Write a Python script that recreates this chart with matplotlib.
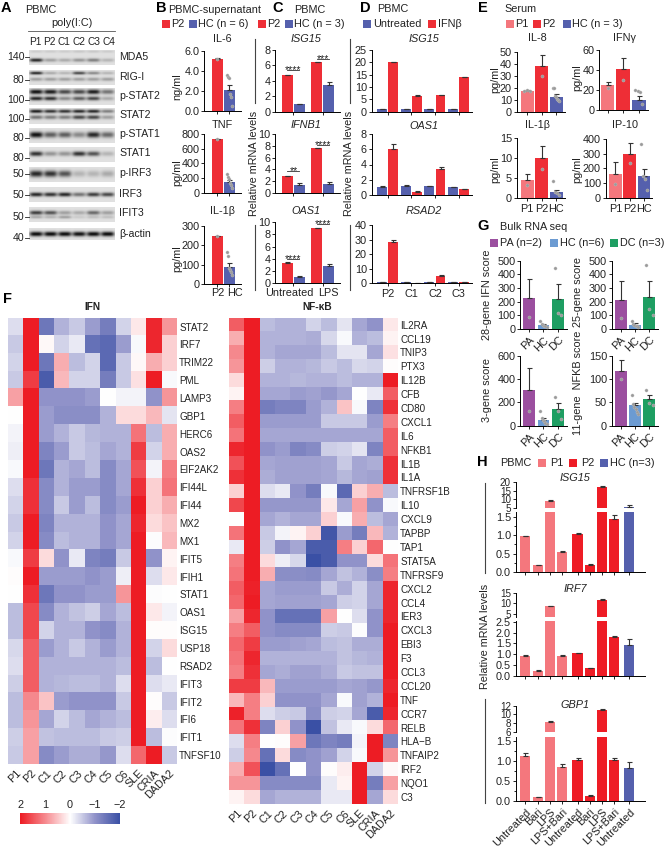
"""Multi-panel figure: western blot, cytokine and mRNA bars, IFN / NF-kB heatmaps."""
import matplotlib

matplotlib.use("Agg")
import matplotlib.pyplot as plt
import numpy as np
from matplotlib.colors import LinearSegmentedColormap

plt.rcParams["font.family"] = ["Liberation Sans", "DejaVu Sans"]
plt.rcParams["axes.linewidth"] = 0.7
plt.rcParams["xtick.major.width"] = 0.7
plt.rcParams["ytick.major.width"] = 0.7

W, H = 665, 848
FS = 7.8
DARK = "#222222"
RED = "#EE2E36"
BLUE = "#5560AD"
PINK = "#F4777D"
PURE_RED = "#EE1C25"
G_PA, G_HC, G_DC = "#9B4F9F", "#6C9BD2", "#1E9E62"

# ---- A: blot
LANES = ["P1", "P2", "C1", "C2", "C3", "C4"]
BLOT_NAMES = ["MDA5", "RIG-I", "p-STAT2", "STAT2", "p-STAT1", "STAT1", "p-IRF3", "IRF3", "IFIT3", "β-actin"]
BLOT_MW = ["140", "80", "100", "100", "80", "80", "50", "50", "50", "40"]
BLOT_BANDS = [
    [[0.85, 0.30, 0.25, 0.35, 0.45, 0.20], [0.10, 0.10, 0.10, 0.12, 0.12, 0.10]],
    [[0.85, 0.25, 0.20, 0.70, 0.40, 0.20], [0.30, 0.30, 0.30, 0.30, 0.30, 0.30]],
    [[0.95, 0.90, 0.70, 0.70, 0.90, 0.50], [0.85, 0.80, 0.40, 0.60, 0.70, 0.25]],
    [[0.90, 0.80, 0.80, 0.85, 0.85, 0.45], [0.50, 0.45, 0.45, 0.70, 0.70, 0.30]],
    [[0.95, 0.60, 0.60, 0.40, 0.85, 0.55]],
    [[0.80, 0.35, 0.35, 0.80, 0.65, 0.20]],
    [[0.85, 0.80, 0.65, 0.20, 0.20, 0.25]],
    [[0.85, 0.80, 0.85, 0.50, 0.75, 0.70]],
    [[0.75, 0.65, 0.30, 0.25, 0.55, 0.30], [0.25, 0.20, 0.30, 0.10, 0.15, 0.15]],
    [[0.98, 0.98, 0.98, 0.95, 0.98, 0.98]],
]

# ---- B
B_IL6 = [5.2, 2.05]
B_IL6_ERR = [0.03, 0.5]
B_IL6_DOTS = [[5.2], [3.6, 3.4, 3.3, 1.7, 1.4, 0.5]]
B_TNF = [730, 140]
B_TNF_ERR = [4, 35]
B_TNF_DOTS = [[730], [255, 220, 180, 135, 110, 60]]
B_IL1B = [245, 85]
B_IL1B_ERR = [2, 25]
B_IL1B_DOTS = [[248], [165, 145, 80, 70, 60, 45]]

# ---- C (Untreated P2, HC; LPS P2, HC)
C_ISG15 = [4.8, 0.95, 6.4, 3.5]
C_ISG15_ERR = [0.02, 0.08, 0.02, 0.35]
C_IFNB1 = [2.9, 1.4, 7.6, 1.5]
C_IFNB1_ERR = [0.02, 0.35, 0.02, 0.28]
C_OAS1 = [3.4, 1.1, 9.1, 2.9]
C_OAS1_ERR = [0.02, 0.12, 0.02, 0.3]

# ---- D
D_GROUPS = ["P2", "C1", "C2", "C3"]
D_ISG15_U = [0.9, 0.9, 0.9, 0.9]
D_ISG15_T = [20, 6.5, 6.7, 14]
D_ISG15_UE = [0.1, 0.1, 0.1, 0.1]
D_ISG15_TE = [0.2, 0.15, 0.15, 0.15]
D_OAS1_U = [1.1, 1.2, 1.15, 1.0]
D_OAS1_T = [6.0, 0.45, 3.4, 0.8]
D_OAS1_UE = [0.08, 0.08, 0.08, 0.05]
D_OAS1_TE = [0.7, 0.03, 0.3, 0.05]
D_RSAD2_U = [0.9, 0.7, 0.8, 0.9]
D_RSAD2_T = [28, 0.3, 5, 0.7]
D_RSAD2_UE = [0.1, 0.1, 0.1, 0.1]
D_RSAD2_TE = [1.8, 0.1, 0.4, 0.1]

# ---- E
E_LABELS = ["P1", "P2", "HC"]
E_IL8 = [17.5, 38, 12.5]
E_IL8_ERR = [0.6, 9, 2]
E_IL8_DOTS = [[17, 18, 17.5], [30], [20, 20, 13, 12, 11, 10, 9]]
E_IFNG = [25, 41, 10.5]
E_IFNG_ERR = [3.5, 11, 4]
E_IFNG_DOTS = [[22], [30], [20, 19, 18, 6]]
E_IL1B = [4.5, 10, 1.6]
E_IL1B_ERR = [1.5, 3, 0.5]
E_IL1B_DOTS = [[3.3], [7.2], [4.2, 1.6, 1.2, 0.8]]
E_IP10 = [160, 300, 150]
E_IP10_ERR = [80, 70, 45]
E_IP10_DOTS = [[90], [235], [365, 150, 130, 50]]

# ---- G
G_LABELS = ["PA", "HC", "DC"]
G_28 = [225, 30, 222]
G_28_ERR = [140, 10, 110]
G_28_DOTS = [[85], [55, 35, 30, 25, 20, 15], [445, 120, 100]]
G_25 = [215, 32, 235]
G_25_ERR = [135, 12, 120]
G_25_DOTS = [[80], [60, 35, 30, 25, 20, 15], [470, 145, 100]]
G_3 = [305, 50, 145]
G_3_ERR = [190, 15, 50]
G_3_DOTS = [[125], [125, 70, 50, 40, 25, 15], [250, 130, 60]]
G_11 = [117, 44, 57]
G_11_ERR = [25, 5, 8]
G_11_DOTS = [[100], [65, 47, 40, 35, 30, 25], [77, 48, 45]]

# ---- H
H_LABELS = ["Untreated", "Bari", "LPS", "LPS+Bari", "Untreated", "Bari", "LPS", "LPS+Bari", "Untreated"]
H_ISG15 = [0.97, 0.18, 9, 0.55, 1.03, 0.2, 17, 1.45, 6]
H_ISG15_ERR = [0.02, 0.02, 0.4, 0.02, 0.03, 0.02, 0.4, 0.09, 1.1]
H_IRF7 = [0.9, 0.22, 8.7, 0.93, 1.03, 0.35, 11.8, 1.78, 1.42]
H_IRF7_ERR = [0.04, 0.03, 0.3, 0.03, 0.02, 0.02, 0.2, 0.05, 0.28]
H_GBP1 = [1.12, 0.1, 8.3, 0.85, 1.03, 0.13, 11, 1.02, 0.83]
H_GBP1_ERR = [0.08, 0.01, 0.15, 0.07, 0.05, 0.01, 0.2, 0.04, 0.13]

# ---- F
HEAT_COLS = ["P1", "P2", "C1", "C2", "C3", "C4", "C5", "C6", "SLE", "CRIA", "DADA2"]
IFN_GENES = ["STAT2", "IRF7", "TRIM22", "PML", "LAMP3", "GBP1", "HERC6", "OAS2", "EIF2AK2", "IFI44L", "IFI44",
             "MX2", "MX1", "IFIT5", "IFIH1", "STAT1", "OAS1", "ISG15", "USP18", "RSAD2", "IFIT3", "IFIT2",
             "IFI6", "IFIT1", "TNFSF10"]
IFN_VALUES = [
    [-.3, 2, -1.4, -.7, -.5, -.9, -1.3, -.4, .2, 1.9, .9],
    [-.5, 2, .05, -.4, -.2, -1.5, -1.6, -.9, -.05, 1.9, .4],
    [-.4, 2, -1.4, .7, -.6, -.4, -1.6, -.5, .05, .7, .4],
    [-.5, 1.7, -1.8, .6, -.4, -.4, -1.3, -.5, .25, 2, -.05],
    [.8, 2, -1.0, -1.0, -1.0, -.9, 0, -.1, -.1, -1.0, .9],
    [0, 2, -.9, -1.05, -1.05, -1.05, -.7, .3, .3, .6, -.25],
    [-.1, 2, -.9, -.7, -.5, -.65, -.7, -.7, 1.2, -.6, .7],
    [-.15, 2, -1.2, -.9, -.5, -.6, -.8, -.7, 1.7, -.4, .7],
    [-.05, 2, -1.4, -.7, -.8, -.6, -1.1, -.8, 1.5, -.1, 1.1],
    [-.3, 1.8, -1.1, -.7, -.9, -.9, -1.1, -.8, 1.8, .4, 1.2],
    [-.4, 1.8, -1.1, -.5, -.9, -.6, -1.1, -.9, 2, .4, .7],
    [-.5, 2, -1.2, -.7, -.7, -.7, -1, -.8, 1.9, .3, .5],
    [-.4, 2, -1.1, -.6, -.7, -.7, -1, -.8, 2, -.03, .6],
    [-.05, 1.7, .3, -1, -.2, -1.2, -1.3, -.5, 2, -1, .1],
    [.03, 2, -.9, -.9, -.9, -1, -.9, -.15, 2, -.3, .2],
    [0, 1.8, -1.4, -1, -1, -.9, -.9, .9, 2, -.02, 0],
    [-.6, 1.6, -1.1, -.7, -.55, -.45, -.8, -.6, 2, .2, -.1],
    [-.6, 1.6, -.4, -.7, -.7, -1, -1.1, -.7, 2, .02, .03],
    [-.35, 1.4, -.9, -.7, -.5, -.7, -.9, -.7, 2, -.4, .3],
    [-.3, 1.4, -.7, -.7, -.7, -.7, -.7, -.6, 2, -.6, 0],
    [-.45, 1.4, -.7, -.65, -.6, -.6, -.7, -.3, 2, -.3, -.2],
    [-.6, 1, .5, -.9, -1, -1, -1, -.5, 2, .03, -.5],
    [-.6, .9, -.8, -.4, -.6, -.8, -.7, -.6, 2, .15, -.3],
    [-.45, .8, -.55, -.6, -.6, -.6, -.5, -.45, 2, -.6, -.02],
    [-.5, .8, -1.1, -.9, -.75, -.75, -.95, -.3, 1.3, 2, -.5],
]
NFKB_GENES = ["IL2RA", "CCL19", "TNIP3", "PTX3", "IL12B", "CFB", "CD80", "CXCL1", "IL6", "NFKB1", "IL1B", "IL1A",
              "TNFRSF1B", "IL10", "CXCL9", "TAPBP", "TAP1", "STAT5A", "TNFRSF9", "CXCL2", "CCL4", "IER3", "CXCL3",
              "EBI3", "F3", "CCL3", "CCL20", "TNF", "CCR7", "RELB", "HLA−B", "TNFAIP2", "IRF2", "NQO1", "C3"]
NFKB_VALUES = [
    [1.4, 2, -.6, -.7, -.7, -.4, -.6, -.25, -.8, -1, .2],
    [.7, 2, -.7, -.7, -.7, -.75, -.35, -.05, -.7, -.6, .1],
    [1, 2, -.7, -.8, -.8, -.8, -.6, -.25, -.25, -.8, .25],
    [.9, 2, -.45, -.7, -.7, -.65, -.5, -.6, -.35, -.4, .02],
    [.3, 2, -.7, -.7, -.65, -.7, -.7, -.6, -.7, -.7, 2],
    [.1, 2, -.8, -.8, -.9, -.85, -.95, -.8, 0, -.2, 1.4],
    [1.1, 2, -1.3, -1.2, -1.2, -.9, -.7, .5, -.05, -1.2, 1.8],
    [1.4, 2, -.9, -.9, -.9, -.9, -.5, -.5, -.5, -.9, 1.1],
    [1.2, 2, -.8, -.8, -.8, -.8, -.8, -.8, -.8, -.8, 1.4],
    [1.9, 2, -1, -.9, -1.2, -1.1, -.45, -.4, -.25, -1.2, 1.4],
    [1.5, 2, -.8, -.85, -.85, -.85, -.8, -.5, -.8, -.75, 1.8],
    [1.8, 2, -.75, -.85, -.85, -.85, -.8, -.65, -.8, -.85, 1.8],
    [.4, 2, -.3, -.2, -1, -1.3, -.05, -1.6, .4, .7, -.6],
    [1.6, 2, -.95, -.95, -.95, -.95, .2, -.8, .8, -1, -.05],
    [0, 2, -.8, -.7, -.8, -.8, .4, -.05, .7, -.6, -.8],
    [1.2, 2, -.5, -.1, .1, .4, -1.9, -.9, -1.3, .6, -.7],
    [-.2, 2, -.45, -1, -.8, -1.8, -1.8, 1.1, .4, 1.3, 0],
    [1.1, 2, .3, -.15, -.35, -2, -1.8, -1, -1, .3, 1.2],
    [1.2, 2, .7, -1.05, -1.05, -1.1, -.8, -.55, -.7, -1.05, 1.1],
    [1.4, 1.95, -.8, -.9, -.9, -.9, -.5, -.75, -.4, -.8, 1.9],
    [1.3, 2, -.8, -.85, -.85, -.85, -.8, -.45, -.4, -.8, 1.9],
    [.8, 1.9, -1, -1.5, -1.5, -1.5, .8, 0, -.3, -1, 1.9],
    [1.1, 1.4, -1, -1.1, -1.1, -1.1, -.45, -.5, -.02, -1, 2],
    [1.3, 1.7, -.9, -.9, -.85, -.8, -.6, -.55, -.75, -.75, 2],
    [1.2, 1.9, -.7, -.7, -.7, -.7, -.7, -.55, -.65, -.7, 2],
    [1.1, 1.8, -.8, -.75, -.85, -.85, -.75, -.5, -.55, -.55, 2],
    [1.7, 1.7, .6, -.9, -.9, -.9, -.9, -.8, -.85, -.95, 1.9],
    [.6, 1.1, .4, -1, -1, -1, -.8, -.05, -.85, -.7, 2],
    [1.95, 1.1, -.3, -.45, -.5, -1.05, -.45, -.4, -.8, -1.8, 1.9],
    [1.2, 1.8, -1.2, .4, -1, -2, -.55, -.2, -.05, .3, 1.3],
    [-.3, 1.1, 0, .02, .8, -1.4, -1.2, -1.3, -.1, 2, -1.2],
    [-.45, 1, -1.5, .3, -1.1, -1, -.85, -.4, -.05, 2, .9],
    [.7, 1.5, -2, -1.5, 0, -1, .02, .15, 2, -.4, .05],
    [.9, .9, -1.1, -1.1, -1.1, -1.1, -.2, .1, 2, -1.3, .8],
    [.1, .3, -.8, -.7, -.7, -.7, -.2, -.2, 2, -.8, .3],
]

fig = plt.figure(figsize=(W / 100, H / 100), dpi=100)
# pixel-space overlay for loose text, rules and legend squares
ov = fig.add_axes([0, 0, 1, 1], zorder=10)
ov.set_xlim(0, W)
ov.set_ylim(H, 0)
ov.axis("off")
ov.patch.set_alpha(0)


def px_axes(x0, y0, x1, y1):
    return fig.add_axes([x0 / W, 1 - y1 / H, (x1 - x0) / W, (y1 - y0) / H])


def label(x, y, s, size=FS, ha="left", va="center", **kw):
    ov.text(x, y, s, fontsize=size, ha=ha, va=va, color=kw.pop("color", DARK), **kw)


def letter(x, y, s):
    label(x, y, s, size=10.5, weight="bold", color="black")


def square(x, y, color, size=8):
    ov.add_patch(plt.Rectangle((x, y - size / 2), size, size, color=color, lw=0))


def style(ax, size=FS):
    for side in ("top", "right"):
        ax.spines[side].set_visible(False)
    ax.tick_params(length=2.2, pad=1.2, labelsize=size, colors=DARK)
    ax.tick_params(axis="x", pad=2.0)
    ax.patch.set_alpha(0)


def bars(rect, vals, errs, colors, ytop, yticks, xs, width, xlim, dots=None, yfmt="%g",
         xticks=None, xlabels=None, rot=0):
    ax = px_axes(*rect)
    style(ax)
    ax.bar(xs, vals, width=width, color=colors, lw=0)
    ax.errorbar(xs, vals, yerr=[np.zeros(len(errs)), errs], fmt="none", ecolor="#333333",
                elinewidth=0.8, capsize=1.8, capthick=0.8)
    if dots is not None:
        for x0, ds in zip(xs, dots):
            offs = np.linspace(-0.22, 0.22, len(ds)) if len(ds) > 1 else [0]
            ax.scatter(np.asarray(x0) + offs, ds, s=5, color="#9A9A9A", edgecolor="#BBBBBB",
                       linewidth=0.3, zorder=4, clip_on=False)
    ax.set_xlim(*xlim)
    ax.set_ylim(0, ytop)
    ax.set_yticks(yticks)
    ax.set_yticklabels([yfmt % t for t in yticks])
    ax.set_xticks(xticks if xticks is not None else xs)
    if xlabels is None:
        ax.set_xticklabels([])
    elif rot:
        ax.set_xticklabels(xlabels, rotation=rot, ha="right", rotation_mode="anchor")
    else:
        ax.set_xticklabels(xlabels)
    return ax


def sig(ax, x0, x1, y, s):
    ax.plot([x0, x1], [y, y], color="#333333", lw=0.6)
    ax.annotate(s, ((x0 + x1) / 2, y), xytext=(0, -2), textcoords="offset points",
                ha="center", va="baseline", fontsize=7.5, color=DARK)


# ---- A
blot_top = [50, 70, 88, 108, 128, 147, 167, 187, 207, 228]
blot_bot = [65, 85, 105, 124, 143, 162, 182, 202, 222, 240]
band_pos = [[.68, .1], [.2, .62], [.22, .62], [.2, .58], [.45], [.45], [.45], [.5], [.38, .68], [.5]]
band_sig = [[.12, .08], [.1, .12], [.14, .12], [.11, .13], [.2], [.16], [.22], [.14], [.14, .1], [.2]]
yy = np.linspace(0, 1, 48)
xx = np.linspace(0, 6, 258)
lane_shape = np.array([np.exp(-((xx - i - .5) / .46) ** 4) for i in range(6)])
for name, top, bot, bands, pos, sg in zip(BLOT_NAMES, blot_top, blot_bot, BLOT_BANDS, band_pos, band_sig):
    img = np.zeros((yy.size, xx.size))
    for inten, p, s in zip(bands, pos, sg):
        across = (np.array(inten)[:, None] * lane_shape).sum(axis=0)
        img += np.exp(-((yy - p) / s) ** 2)[:, None] * across[None, :]
    img = np.clip(0.88 - 0.86 * img, 0, 1)
    ov.imshow(img, extent=(29, 115, bot, top), cmap="gray", vmin=0, vmax=1, aspect="auto",
              interpolation="bilinear")
ov.set_xlim(0, W)
ov.set_ylim(H, 0)
mw_y = [57, 80, 100, 119, 138, 158, 174, 195, 217, 238]
name_y = [57, 77, 96, 115, 134, 153, 173, 194, 213, 234]
for name, mw, my, ny in zip(BLOT_NAMES, BLOT_MW, mw_y, name_y):
    label(119, ny, name, size=7.6)
    label(24.5, my, mw, size=7.6, ha="right")
    ov.plot([24.5, 29], [my, my], color=DARK, lw=0.6)
for i, lane in enumerate(LANES):
    label(35 + i * 14.7, 42, lane, size=7.3, ha="center")
letter(1, 8, "A")
label(25, 10, "PBMC")
label(72, 23, "poly(I:C)", ha="center")
ov.plot([28, 115], [31, 31], color="#555555", lw=0.6)

# ---- B
letter(156, 8, "B")
label(168, 10, "PBMC-supernatant")
square(162, 24, RED)
label(171, 24, "P2")
square(189, 24, BLUE)
label(198, 24, "HC (n = 6)")
bx = [0, 1]
bxl = (-1.125, 1.96)
bc = [RED, BLUE]
bars((204, 50.7, 241, 111), B_IL6, B_IL6_ERR, bc, 6, [0, 2, 4, 6], bx, .92, bxl, B_IL6_DOTS, yfmt="%.1f")
bars((204, 134, 241, 192.7), B_TNF, B_TNF_ERR, bc, 800, [0, 200, 400, 600, 800], bx, .92, bxl, B_TNF_DOTS)
bars((204, 225.7, 241, 284), B_IL1B, B_IL1B_ERR, bc, 300, [0, 100, 200, 300], bx, .92, bxl, B_IL1B_DOTS)
for y, s, un in [(39, "IL-6", "ng/ml"), (125, "TNF", "pg/ml"), (211, "IL-1β", "pg/ml")]:
    label(222, y, s, ha="center")
    label(177, y + 48, un, ha="center", rotation=90)
label(218, 293, "P2", ha="center")
label(235, 293, "HC", ha="center")

# ---- C
letter(272, 8, "C")
label(294, 10, "PBMC")
square(258, 24, RED)
label(267, 24, "P2")
square(285, 24, BLUE)
label(294, 24, "HC (n = 3)")
cx = [0, 1, 2.46, 3.46]
cxl = (-1.04, 4.38)
cc = [RED, BLUE, RED, BLUE]
ct = [.5, 2.96]
ax = bars((275, 50, 340, 111.7), C_ISG15, C_ISG15_ERR, cc, 8, [0, 2, 4, 6, 8], cx, .92, cxl, xticks=ct)
sig(ax, 0, 1, 5.4, "****")
sig(ax, 2.46, 3.46, 6.8, "***")
ax = bars((275, 134, 340, 193), C_IFNB1, C_IFNB1_ERR, cc, 10, [0, 2, 4, 6, 8, 10], cx, .92, cxl, xticks=ct)
sig(ax, 0, 1, 3.65, "**")
sig(ax, 2.46, 3.46, 8.15, "****")
ax = bars((275, 222.3, 340, 283.3), C_OAS1, C_OAS1_ERR, cc, 10, [0, 2, 4, 6, 8, 10], cx, .92, cxl, xticks=ct)
sig(ax, 0, 1, 4, "****")
sig(ax, 2.46, 3.46, 9.7, "****")
for y, s in [(39, "ISG15"), (125, "IFNB1"), (211, "OAS1")]:
    label(305.7, y, s, ha="center", style="italic")
label(289, 293.5, "Untreated", ha="center")
label(328, 293.5, "LPS", ha="center")
for x in (254.5, 350):
    ov.plot([x, x], [39, 103], color="#444444", lw=0.8)
    ov.plot([x, x], [225, 290], color="#444444", lw=0.8)
    label(x - .5, 163.5, "Relative mRNA levels", ha="center", rotation=90)

# ---- D
letter(360, 8, "D")
label(377, 9, "PBMC")
square(363, 24, BLUE)
label(373, 24, "Untreated")
square(428, 24, RED)
label(438, 24, "IFNβ")
dg = np.arange(4)
dx = np.ravel(np.column_stack([dg - .235, dg + .235]))
dxl = (-.667, 3.55)
dc = [BLUE, RED] * 4


def pairs(a, b):
    return list(np.ravel(np.column_stack([a, b])))


bars((371.7, 50, 471.7, 111.7), pairs(D_ISG15_U, D_ISG15_T), pairs(D_ISG15_UE, D_ISG15_TE), dc, 25,
     [0, 5, 10, 15, 20, 25], dx, .42, dxl, xticks=dg)
bars((371.7, 134, 471.7, 195), pairs(D_OAS1_U, D_OAS1_T), pairs(D_OAS1_UE, D_OAS1_TE), dc, 8,
     [0, 2, 4, 6, 8], dx, .42, dxl, xticks=dg)
bars((371.7, 225, 471.7, 283.3), pairs(D_RSAD2_U, D_RSAD2_T), pairs(D_RSAD2_UE, D_RSAD2_TE), dc, 40,
     [0, 10, 20, 30, 40], dx, .42, dxl, xticks=dg, xlabels=D_GROUPS)
for y, s in [(39, "ISG15"), (126, "OAS1"), (211, "RSAD2")]:
    label(424, y, s, ha="center", style="italic")

# ---- E
letter(478, 8, "E")
label(504, 9, "Serum")
square(506, 24, PINK)
label(515, 24, "P1")
square(533, 24, RED)
label(542, 24, "P2")
square(563, 24, BLUE)
label(572, 24, "HC (n = 3)")
ex = np.arange(3)
ec = [PINK, RED, BLUE]
exl1 = (-.72, 2.6)
exl2 = (-.55, 2.6)
exl3 = (-.69, 2.57)
bars((516.7, 51.7, 565, 111.7), E_IL8, E_IL8_ERR, ec, 50, [0, 10, 20, 30, 40, 50], ex, .88, exl1, E_IL8_DOTS)
bars((599, 50, 648, 110), E_IFNG, E_IFNG_ERR, ec, 60, [0, 20, 40, 60], ex, .88, exl2, E_IFNG_DOTS)
bars((516.7, 138.3, 565, 198.3), E_IL1B, E_IL1B_ERR, ec, 15, [0, 5, 10, 15], ex, .88, exl1, E_IL1B_DOTS,
     xlabels=E_LABELS)
bars((605.7, 139, 652, 197.7), E_IP10, E_IP10_ERR, ec, 400, [0, 100, 200, 300, 400], ex, .88, exl3, E_IP10_DOTS,
     xlabels=E_LABELS)
for x, y, s in [(537, 38, "IL-8"), (625, 38, "IFNγ"), (537, 125, "IL-1β"), (625, 125, "IP-10")]:
    label(x, y, s, ha="center")
for x, y in [(495, 80), (577, 78), (495, 170), (577, 170)]:
    label(x, y, "pg/ml", ha="center", rotation=90)

# ---- G
letter(477, 226, "G")
label(500, 227, "Bulk RNA seq")
for x, c, s in [(490, G_PA, "PA (n=2)"), (550, G_HC, "HC (n=6)"), (610, G_DC, "DC (n=3)")]:
    square(x, 243, c)
    label(x + 10, 243, s)
gc = [G_PA, G_HC, G_DC]
gxl = (-.62, 2.6)
bars((520, 260.7, 566.7, 329), G_28, G_28_ERR, gc, 500, [0, 100, 200, 300, 400, 500], ex, .82, gxl, G_28_DOTS,
     xlabels=G_LABELS, rot=45)
bars((611.7, 260.7, 658, 329), G_25, G_25_ERR, gc, 500, [0, 100, 200, 300, 400, 500], ex, .82, gxl, G_25_DOTS,
     xlabels=G_LABELS, rot=45)
bars((520, 356, 566.7, 425.7), G_3, G_3_ERR, gc, 600, [0, 200, 400, 600], ex, .82, gxl, G_3_DOTS,
     xlabels=G_LABELS, rot=45)
bars((611.7, 356, 658, 425.7), G_11, G_11_ERR, gc, 150, [0, 50, 100, 150], ex, .82, gxl, G_11_DOTS,
     xlabels=G_LABELS, rot=45)
for x, y, s in [(487, 295, "28-gene IFN score"), (578, 292, "25-gene score"),
                (487, 390.5, "3-gene score"), (578, 383, "11-gene  NFKB score")]:
    label(x, y, s, ha="center", rotation=90)

# ---- H
letter(477, 462, "H")
label(500, 463, "PBMC")
square(538, 463, PINK)
label(550, 463, "P1")
square(569, 463, PURE_RED)
label(581, 463, "P2")
square(600, 463, BLUE)
label(610, 463, "HC (n=3)")
hx = np.array([0, 1, 2, 3, 4.27, 5.27, 6.27, 7.27, 8.5])
hc = [PINK] * 4 + [PURE_RED] * 4 + [BLUE]
hxl = (-.785, 9.79)


def broken(top_rect, low_rect, vals, errs, upper_lim, upper_ticks, low_top, low_ticks, minor=None, xlabels=None):
    up = px_axes(*top_rect)
    style(up, size=7.1)
    up.spines["bottom"].set_visible(False)
    up.bar(hx, vals, width=.82, color=hc, lw=0)
    up.errorbar(hx, vals, yerr=[np.zeros(len(errs)), errs], fmt="none", ecolor="#333333",
                elinewidth=0.8, capsize=1.8, capthick=0.8)
    up.set_xlim(*hxl)
    up.set_ylim(*upper_lim)
    up.set_yticks(upper_ticks)
    up.set_xticks([])
    lo = px_axes(*low_rect)
    style(lo, size=FS)
    lo.bar(hx, vals, width=.82, color=hc, lw=0)
    lo.errorbar(hx, vals, yerr=[np.zeros(len(errs)), errs], fmt="none", ecolor="#333333",
                elinewidth=0.8, capsize=1.8, capthick=0.8)
    lo.set_xlim(*hxl)
    lo.set_ylim(0, low_top)
    lo.set_yticks(low_ticks)
    lo.set_yticklabels(["%.1f" % t for t in low_ticks])
    if minor is not None:
        lo.set_yticks(minor, minor=True)
        lo.tick_params(axis="y", which="minor", length=1.3, width=0.6)
    lo.set_xticks(hx)
    if xlabels is None:
        lo.set_xticklabels([])
    else:
        lo.set_xticklabels(xlabels, rotation=45, ha="right", rotation_mode="anchor")


broken((515.7, 481.7, 645, 508.3), (515.7, 512.3, 645, 572), H_ISG15, H_ISG15_ERR, (5, 20), [5, 10, 15, 20],
       1.62, [0, .5, 1, 1.5], minor=[.25, .75, 1.25])
broken((515.7, 592.7, 645, 617), (515.7, 620.7, 645, 675.7), H_IRF7, H_IRF7_ERR, (3.7, 15), [5, 10, 15],
       2.55, [0, .5, 1, 1.5, 2, 2.5])
broken((515.7, 705.7, 645, 731.7), (515.7, 736.7, 645, 801), H_GBP1, H_GBP1_ERR, (6, 12), [6, 8, 10, 12],
       1.6, [0, .5, 1, 1.5], minor=[.25, .75, 1.25], xlabels=H_LABELS)
for y, s in [(478, "ISG15"), (589, "IRF7"), (705, "GBP1")]:
    label(575, y, s, ha="center", style="italic")
ov.plot([485.3, 485.3], [483, 573], color="#444444", lw=0.8)
ov.plot([485.3, 485.3], [699, 803], color="#444444", lw=0.8)
label(484.5, 636, "Relative mRNA levels", ha="center", rotation=90)

# ---- F
letter(3, 299, "F")
heat_cmap = LinearSegmentedColormap.from_list(
    "heat", [(0, "#3A50A5"), (.25, "#9092C9"), (.5, "#FFFFFF"), (.75, "#F68A8F"), (1, "#ED1C24")])


def heatmap(rect, values, genes):
    ax = px_axes(*rect)
    ax.imshow(values, cmap=heat_cmap, vmin=-2, vmax=2, aspect="auto", interpolation="nearest")
    ax.yaxis.tick_right()
    ax.set_yticks(range(len(genes)))
    ax.set_yticklabels(genes, fontsize=7.1, color=DARK)
    ax.set_xticks(range(len(HEAT_COLS)))
    ax.set_xticklabels(HEAT_COLS, fontsize=FS, color=DARK, rotation=45, ha="right", rotation_mode="anchor")
    ax.tick_params(length=0, pad=1.5)
    ax.tick_params(axis="x", pad=3)
    for sp in ax.spines.values():
        sp.set_visible(False)


heatmap((8.3, 317.7, 177, 764), IFN_VALUES, IFN_GENES)
heatmap((229.3, 317.7, 398, 804), NFKB_VALUES, NFKB_GENES)
label(92, 307, "IFN", ha="center", weight="bold", size=7.3)
label(317, 307, "NF-κB", ha="center", weight="bold", size=7.3)

cax = px_axes(20, 812.7, 120, 824)
cax.pcolormesh(np.linspace(2, -2, 201), [0, 1], np.linspace(2, -2, 200)[None, :], cmap=heat_cmap, vmin=-2, vmax=2)
cax.set_xlim(2, -2)
cax.set_yticks([])
cax.xaxis.tick_top()
cax.set_xticks([2, 1, 0, -1, -2])
cax.set_xticklabels(["2", "1", "0", "−1", "−2"], fontsize=FS, color=DARK)
cax.tick_params(length=0, pad=2)
for sp in cax.spines.values():
    sp.set_visible(False)

fig.savefig("out.png", dpi=100)
